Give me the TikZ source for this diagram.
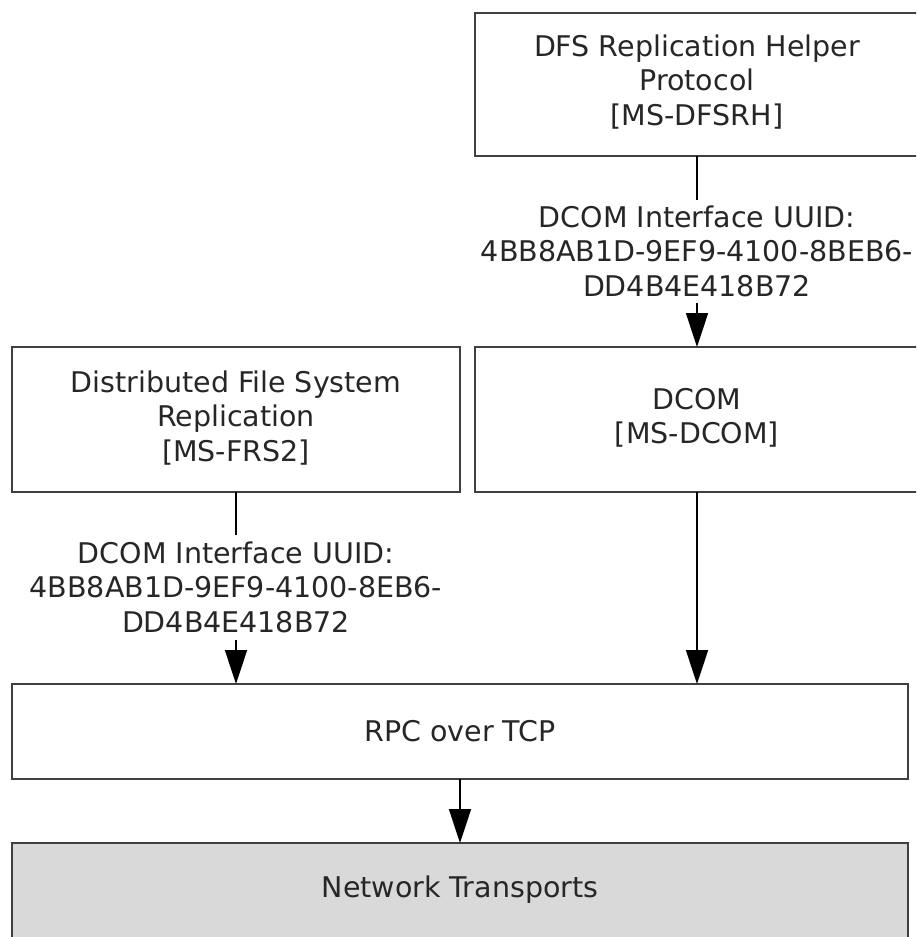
\documentclass[tikz,border=0pt]{standalone}
\usepackage{fontspec}
\setmainfont{DejaVu Sans}
\usetikzlibrary{arrows.meta}
\definecolor{boxline}{HTML}{404040}
\definecolor{ntfill}{HTML}{D9D9D9}
\tikzset{
  boxnode/.style={draw=boxline, line width=2.4pt, fill=white, inner sep=0pt},
  txt/.style={align=center, font=\fontsize{28.5}{34.5}\selectfont, text=black!85, inner sep=0pt},
  conn/.style={line width=1.6pt, draw=black},
  arr/.style={conn, -{Triangle[length=34pt,width=22pt]}},
}
\begin{document}
\begin{tikzpicture}[x=1pt,y=-1pt]
\useasboundingbox (0,0) rectangle (916,937);
\clip (0,0) rectangle (916,937);
\fill[white] (0,0) rectangle (916,937);
% boxes
\draw[boxnode] (475,13) rectangle (920,156);
\coordinate (hTop) at (697,156);
\node[txt] (hText) at (697,82) {DFS Replication Helper\\Protocol\\{[MS-DFSRH]}};
\draw[boxnode] (475,347) rectangle (920,492);
\coordinate (dTop) at (697,347);
\coordinate (dBot) at (697,492);
\node[txt] (dText) at (697,418) {DCOM\\{[MS-DCOM]}};
\draw[boxnode] (12,347) rectangle (460,492);
\coordinate (fTop) at (236,347);
\coordinate (fBot) at (236,492);
\node[txt] (fText) at (236,418) {Distributed File System\\Replication\\{[MS-FRS2]}};
\draw[boxnode] (12,684) rectangle (908,779);
\coordinate (rTopL) at (236,684);
\coordinate (rTopR) at (697,684);
\coordinate (rBot) at (460,779);
\node[txt] (rText) at (460,731) {RPC over TCP};
\draw[boxnode, fill=ntfill] (12,843) rectangle (908,960);
\coordinate (nTop) at (460,843);
\node[txt] (nText) at (460,890) {Network Transports};
% labels
\node[txt] (lab1) at (697,251) {DCOM Interface UUID:\\4BB8AB1D-9EF9-4100-8BEB6-\\DD4B4E418B72};
\node[txt] (lab2) at (236,587) {DCOM Interface UUID:\\4BB8AB1D-9EF9-4100-8EB6-\\DD4B4E418B72};
\coordinate (l1n) at (697,200);
\coordinate (l1s) at (697,303);
\coordinate (l2n) at (236,535);
\coordinate (l2s) at (236,640);
% connectors
\draw[conn] (hTop) -- (l1n);
\draw[arr] (l1s) -- (dTop);
\draw[conn] (fBot) -- (l2n);
\draw[arr] (l2s) -- (rTopL);
\draw[arr] (dBot) -- (rTopR);
\draw[arr] (rBot) -- (nTop);
\end{tikzpicture}
\end{document}
